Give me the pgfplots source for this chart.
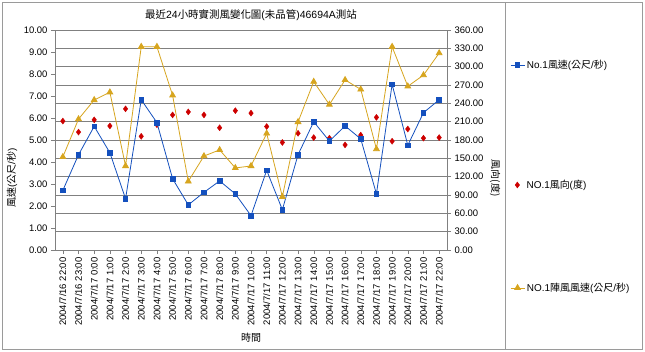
\documentclass[border=0pt]{standalone}
\usepackage{pgfplots}
\pgfplotsset{compat=1.18}
\usepackage{fontspec}
\setmainfont{Liberation Sans}
\newfontfamily\cjk{Noto Sans CJK TC}
\definecolor{sblue}{RGB}{20,80,190}
\definecolor{sred}{RGB}{205,0,0}
\definecolor{sgold}{RGB}{215,165,30}
\definecolor{frm}{RGB}{128,128,128}
\begin{document}
\begin{tikzpicture}
\useasboundingbox (0,0) rectangle (645bp,352bp);
\fill[white] (0,0) rectangle (645bp,352bp);
\draw[frm!80] (2.5bp,2.5bp) rectangle (642.5bp,349.5bp);
\draw[frm!80] (505bp,2.5bp) rectangle (642.5bp,349.5bp);
\pgfplotsset{
  myleg/.style={legend image code/.code={\path (0bp,0bp) (14bp,0bp);\draw[mark repeat=2,mark phase=2,##1] plot coordinates {(0bp,0bp)(7bp,0bp)(14bp,0bp)};}},
  common/.style={at={(55bp,102bp)}, anchor=south west, scale only axis,
    width=392bp, height=220bp, xmin=-0.5, xmax=24.5,
    tick align=outside, major tick length=4bp,
    axis line style={frm}, every tick/.style={frm},
    tick label style={font=\fontsize{9.5}{11}\selectfont},
    label style={font=\fontsize{10}{12}\selectfont},
    /pgf/number format/fixed, /pgf/number format/fixed zerofill,
    /pgf/number format/precision=2, /pgf/number format/assume math mode=true,
    myleg,
    legend cell align=left,
  },
}
% right axis: wind direction + gridlines
\begin{axis}[common, ymin=0, ymax=360, ytick={0,30,...,360},
  axis x line=none, axis y line*=right,
  ymajorgrids, grid style={frm, line width=0.6pt},
  ylabel={\cjk 風向(度)},
  every axis y label/.style={at={(ticklabel cs:0.327)}, rotate=-90, anchor=south, inner sep=3bp},
  legend style={at={(1.153,0.2955)}, anchor=west, draw=none, fill=none,
    font=\fontsize{10}{12}\selectfont},
]
\addplot[sred, only marks, mark=diamond*, mark size=3bp, myleg] coordinates {
(0,211) (1,193) (2,213) (3,203) (4,231) (5,186) (6,205) (7,221) (8,226) (9,221)
(10,200) (11,228) (12,224) (13,202) (14,176) (15,191) (16,184) (17,183) (18,172)
(19,188) (20,217) (21,178) (22,198) (23,183) (24,184)};
\legend{NO.1{\cjk 風向}({\cjk 度})}
\end{axis}
% left axis: wind speed + gust
\begin{axis}[common, ymin=0, ymax=10, ytick={0,...,10}, ytick pos=left,
  xtick={0,...,24}, xtick pos=bottom,
  xticklabels={2004/7/16 22:00,2004/7/16 23:00,2004/7/17 0:00,2004/7/17 1:00,2004/7/17 2:00,2004/7/17 3:00,2004/7/17 4:00,2004/7/17 5:00,2004/7/17 6:00,2004/7/17 7:00,2004/7/17 8:00,2004/7/17 9:00,2004/7/17 10:00,2004/7/17 11:00,2004/7/17 12:00,2004/7/17 13:00,2004/7/17 14:00,2004/7/17 15:00,2004/7/17 16:00,2004/7/17 17:00,2004/7/17 18:00,2004/7/17 19:00,2004/7/17 20:00,2004/7/17 21:00,2004/7/17 22:00},
  xticklabel style={rotate=90, anchor=east},
  ylabel={{\cjk 風速}({\cjk 公尺}/{\cjk 秒})},
  every axis y label/.style={at={(ticklabel cs:0.327)}, rotate=90, anchor=south, inner sep=3bp},
  xlabel={\cjk 時間},
  xlabel style={at={(axis description cs:0.5,0)}, anchor=center, yshift=-88bp},
  title={{\cjk 最近}24{\cjk 小時實測風變化圖}({\cjk 未品管})46694A{\cjk 測站}},
  title style={at={(axis description cs:0.5,1)}, anchor=center, yshift=9bp, inner sep=0pt, font=\fontsize{10.5}{12}\selectfont},
  legend style={at={(1.153,0.882)}, anchor=north west, draw=none, fill=none,
    font=\fontsize{10}{12}\selectfont, row sep=209bp},
]
\addplot[sblue, mark=square*, mark size=2.3bp, line width=0.8pt] coordinates {
(0,2.71) (1,4.33) (2,5.62) (3,4.42) (4,2.33) (5,6.83) (6,5.79) (7,3.24) (8,2.05)
(9,2.62) (10,3.14) (11,2.55) (12,1.56) (13,3.62) (14,1.83) (15,4.33) (16,5.83)
(17,4.95) (18,5.64) (19,5.05) (20,2.55) (21,7.53) (22,4.76) (23,6.24) (24,6.83)};
\addplot[sgold, mark=triangle*, mark size=3.3bp, line width=0.8pt] coordinates {
(0,4.23) (1,5.95) (2,6.82) (3,7.17) (4,3.82) (5,9.24) (6,9.24) (7,7.03) (8,3.12)
(9,4.27) (10,4.55) (11,3.73) (12,3.82) (13,5.30) (14,2.42) (15,5.82) (16,7.65)
(17,6.61) (18,7.73) (19,7.30) (20,4.59) (21,9.24) (22,7.44) (23,7.95) (24,8.95)};
\legend{No.1{\cjk 風速}({\cjk 公尺}/{\cjk 秒}),NO.1{\cjk 陣風風速}({\cjk 公尺}/{\cjk 秒})}
\end{axis}
\end{tikzpicture}
\end{document}
